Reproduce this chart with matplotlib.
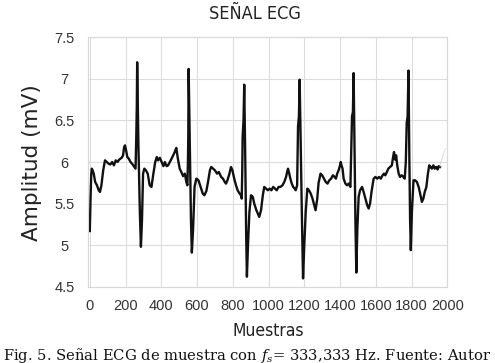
import matplotlib
matplotlib.use("Agg")
import matplotlib.pyplot as plt

# ECG (sample index, amplitude in mV)
ecg_puntos = [
    (0, 5.17), (4, 5.55), (8, 5.85), (11, 5.92), (16, 5.90), (22, 5.86), (30, 5.76), (40, 5.72),
    (50, 5.66), (57, 5.64), (65, 5.72), (75, 5.90), (85, 6.02), (95, 6.00), (105, 5.98),
    (115, 5.97), (125, 6.00), (135, 5.96), (145, 6.02), (155, 6.00), (165, 6.03), (178, 6.05),
    (186, 6.08), (192, 6.18), (197, 6.20), (203, 6.14), (210, 6.06), (218, 6.04), (228, 6.00),
    (240, 5.97), (250, 5.94), (256, 5.92), (260, 6.30), (263, 6.67), (265, 7.20), (272, 6.20),
    (280, 5.40), (286, 4.98), (292, 5.30), (298, 5.86), (305, 5.92), (314, 5.90), (324, 5.86),
    (335, 5.72), (345, 5.70), (355, 5.85), (366, 6.00), (375, 6.06), (382, 6.02), (392, 6.05),
    (402, 6.00), (412, 5.95), (420, 6.00), (430, 5.95), (438, 5.96), (448, 6.00), (460, 6.05),
    (475, 6.12), (484, 6.17), (492, 6.05), (503, 5.92), (512, 5.88), (522, 5.83), (532, 5.86),
    (540, 5.76), (546, 5.72), (549, 6.00), (551, 6.30), (553, 7.12), (560, 6.10), (566, 5.30),
    (571, 4.91), (578, 5.20), (586, 5.70), (596, 5.80), (608, 5.78), (620, 5.70), (632, 5.62),
    (641, 5.60), (652, 5.65), (663, 5.78), (672, 5.90), (679, 5.94), (690, 5.92), (700, 5.90),
    (712, 5.86), (722, 5.88), (735, 5.82), (745, 5.80), (755, 5.76), (762, 5.74), (770, 5.78),
    (780, 5.85), (790, 5.94), (798, 5.90), (808, 5.80), (818, 5.72), (827, 5.66), (838, 5.62),
    (846, 5.60), (850, 5.56), (853, 5.90), (855, 6.30), (860, 6.50), (864, 6.93), (870, 6.00),
    (875, 5.10), (879, 4.62), (885, 5.00), (893, 5.40), (902, 5.60), (912, 5.58), (920, 5.50),
    (932, 5.42), (940, 5.38), (948, 5.34), (958, 5.42), (968, 5.60), (976, 5.70), (986, 5.68),
    (996, 5.66), (1006, 5.68), (1016, 5.66), (1026, 5.70), (1036, 5.68), (1046, 5.66),
    (1056, 5.70), (1066, 5.70), (1078, 5.72), (1088, 5.76), (1098, 5.82), (1104, 5.88),
    (1109, 5.92), (1116, 5.86), (1122, 5.80), (1130, 5.74), (1138, 5.70), (1146, 5.68),
    (1152, 5.66), (1160, 5.72), (1163, 6.20), (1165, 6.43), (1170, 6.55), (1174, 6.99),
    (1180, 6.20), (1187, 5.30), (1193, 4.60), (1200, 5.00), (1208, 5.40), (1217, 5.68),
    (1226, 5.66), (1236, 5.62), (1246, 5.56), (1256, 5.48), (1263, 5.42), (1272, 5.55),
    (1280, 5.75), (1291, 5.86), (1300, 5.84), (1310, 5.80), (1320, 5.76), (1330, 5.74),
    (1340, 5.78), (1350, 5.80), (1360, 5.84), (1370, 5.82), (1377, 5.80), (1384, 5.86),
    (1392, 5.90), (1400, 5.96), (1404, 6.00), (1408, 5.96), (1414, 5.92), (1420, 5.80),
    (1430, 5.74), (1439, 5.72), (1448, 5.74), (1458, 5.70), (1462, 6.10), (1467, 6.55),
    (1472, 6.60), (1476, 7.07), (1481, 6.20), (1486, 5.30), (1491, 4.67), (1497, 5.20),
    (1504, 5.58), (1512, 5.66), (1523, 5.70), (1532, 5.64), (1542, 5.56), (1552, 5.48),
    (1560, 5.44), (1568, 5.50), (1576, 5.64), (1588, 5.80), (1598, 5.82), (1608, 5.80),
    (1618, 5.82), (1628, 5.80), (1638, 5.84), (1646, 5.86), (1653, 5.84), (1662, 5.88),
    (1670, 5.92), (1680, 5.94), (1690, 5.96), (1696, 6.05), (1702, 6.12), (1708, 6.03),
    (1714, 6.08), (1720, 5.96), (1728, 5.86), (1736, 5.82), (1745, 5.84), (1755, 5.82),
    (1762, 5.80), (1768, 6.00), (1773, 6.47), (1778, 6.55), (1783, 7.10), (1788, 6.00),
    (1792, 5.30), (1796, 4.94), (1802, 5.40), (1811, 5.78), (1820, 5.78), (1830, 5.76),
    (1840, 5.70), (1850, 5.60), (1858, 5.52), (1866, 5.56), (1874, 5.64), (1883, 5.70),
    (1891, 5.85), (1899, 5.96), (1906, 5.94), (1914, 5.92), (1922, 5.96), (1930, 5.92),
    (1938, 5.94), (1946, 5.91), (1952, 5.95), (1959, 5.94),
]
muestras = [p[0] for p in ecg_puntos]
amplitud = [p[1] for p in ecg_puntos]

# faint trailing segment
cola_x = [1959, 1965, 1990]
cola_y = [5.94, 6.00, 6.17]

x_ticks = [0, 200, 400, 600, 800, 1000, 1200, 1400, 1600, 1800, 2000]
y_ticks = [4.5, 5, 5.5, 6, 6.5, 7, 7.5]
y_tick_labels = ["4.5", "5", "5.5", "6", "6.5", "7", "7.5"]

fig = plt.figure(figsize=(4.95, 3.63), dpi=100)
ax = fig.add_axes([0.1778, 0.2102, 0.7258, 0.687])

ax.plot(muestras, amplitud, color="#111111", lw=1.7, solid_joinstyle="round")
ax.plot(cola_x, cola_y, color="#c8c8c8", lw=0.6, ls=(0, (2, 1)))

ax.set_xlim(-10, 2000)
ax.set_ylim(4.5, 7.5)
ax.set_xticks(x_ticks)
ax.set_yticks(y_ticks)
ax.set_yticklabels(y_tick_labels)
ax.grid(True, color="#dcdcdc", lw=0.8)
ax.set_axisbelow(True)
for s in ax.spines.values():
    s.set_color("#d8d8d8")
    s.set_linewidth(0.8)
ax.tick_params(length=0, labelsize=10.5, colors="#333333")
for lbl in ax.get_yticklabels():
    lbl.set_horizontalalignment("center")
    lbl.set_fontfamily("Liberation Sans")
ax.tick_params(axis="y", pad=17)
ax.tick_params(axis="x", pad=9)
for lbl in ax.get_xticklabels():
    lbl.set_fontfamily("Liberation Sans")

fig.text(0.516, 0.962, "SEÑAL ECG", ha="center", va="center", fontsize=13,
         family="DejaVu Sans", fontstretch="condensed", color="#222222")
fig.text(0.065, 0.553, "Amplitud (mV)", rotation=90, ha="center", va="center",
         fontsize=15.5, family="DejaVu Sans", color="#222222")
fig.text(0.542, 0.087, "Muestras", ha="center", va="center", fontsize=12.5,
         family="DejaVu Sans", fontstretch="condensed", color="#222222")
fig.text(0.5, 0.022, r"Fig. 5. Señal ECG de muestra con $f_s$= 333,333 Hz. Fuente: Autor",
         ha="center", va="center", fontsize=10.6, family="DejaVu Serif",
         math_fontfamily="dejavuserif", color="#111111")

fig.savefig("out.png", dpi=100)
